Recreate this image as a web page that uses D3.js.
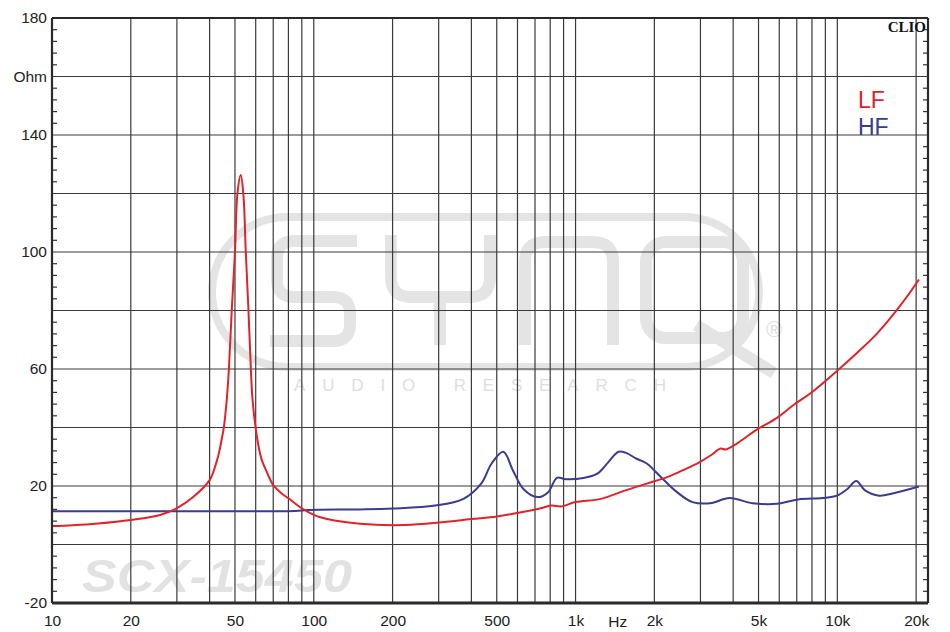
<!DOCTYPE html>
<html><head><meta charset="utf-8">
<script src="https://cdn.jsdelivr.net/npm/d3@7"></script>
<style>html,body{margin:0;padding:0;background:#fff;}svg{display:block;font-family:"Liberation Sans",Arial,sans-serif;}</style>
</head><body>
<script>
// ---- data ----
const lfFreq = [10,12,15,20,25.9,30,34.7,40,42.6,43.6,44.5,45.4,46.5,47.4,48.6,50,51.1,52.6,53.8,55,56.3,57.5,58.3,60,62.3,63.5,66.1,68,70,75,80,90,100,106,120,150,200,250,300,400,500,620,737,807,880,1000,1250,1550,1870,2250,2600,2980,3300,3580,3750,4130,4890,5900,6800,7900,9900,12600,14200,16900,20500];
const lfOhm  = [6.3,6.6,7.2,8.4,10.1,12.4,16.3,22.0,28.5,32,36,40.5,49.4,60,80,100,120,126.3,120,100,80,60,50,39.7,31.2,28.5,24.9,22.4,20.3,17.6,15.8,12.4,10.1,9.3,8.2,7.1,6.6,6.9,7.5,8.7,9.6,11.0,12.4,13.3,13.0,14.5,15.6,18.5,20.8,23.1,25.6,28.2,30.6,32.8,32.5,34.5,39.1,43.4,47.7,51.7,59.1,67.6,72.2,80.2,90.6];
const hfFreq = [10,50,85,95,150,200,291,373,436,478,530,576,632,716,786,849,918,1070,1211,1330,1459,1553,1703,1870,2117,2395,2798,3268,3873,4739,5890,7087,8795,9960,10930,11810,12760,14450,16360,20500];
const hfOhm  = [11.4,11.4,11.45,11.8,12.0,12.3,13.3,15.6,20.8,27.7,31.7,25.4,19.0,16.2,17.9,22.8,22.3,22.7,24.2,28.0,31.7,31.4,29.4,27.7,23.1,18.5,14.5,14.1,15.9,14.1,13.9,15.4,15.9,16.7,19.0,21.7,18.5,16.7,17.5,19.8];
const xTickValues = [10,20,50,100,200,500,1000,2000,5000,10000,20000];
const xTickLabels = ["10","20","50","100","200","500","1k","2k","5k","10k","20k"];
const xGridValues = [20,30,40,50,60,70,80,90,100,200,300,400,500,600,700,800,900,1000,2000,3000,4000,5000,6000,7000,8000,9000,10000,20000];
const yGridValues = [-20,0,20,40,60,80,100,120,140,160,180];
const yTickValues = [180,160,140,100,60,20,-20];
const yTickLabels = ["180","Ohm","140","100","60","20","-20"];
const seriesNames = ["LF","HF"];
const seriesColors = ["#e0232b","#3b3b8f"];

// ---- layout ----
const W = 950, H = 632;
const L = 52, R = 928, T = 18, B = 603;
const x = d3.scaleLog().domain([10, 22200]).range([L, R]);
const y = d3.scaleLinear().domain([-20, 180]).range([B, T]);

const svg = d3.select("body").append("svg").attr("width", W).attr("height", H);
svg.append("rect").attr("width", W).attr("height", H).attr("fill", "#fff");

// ---- watermarks ----
const wm = svg.append("g").attr("transform", "translate(208,213)")
  .attr("fill", "none").attr("stroke", "#e4e4e4");
wm.append("rect").attr("x",4).attr("y",4).attr("width",547).attr("height",150).attr("rx",75).attr("stroke-width",8);
wm.append("path").attr("stroke-width",12)
  .attr("d","M149,28 H86 Q69,28 69,45 V67 Q69,84 86,84 H125 Q142,84 142,101 V111 Q142,128 125,128 H62");
wm.append("path").attr("stroke-width",12)
  .attr("d","M183,22 V64 Q183,84 203,84 H262 Q282,84 282,64 V22 M232,84 V132");
wm.append("path").attr("stroke-width",12)
  .attr("d","M317,132 V49 Q317,29 337,29 H385 Q405,29 405,49 V132");
wm.append("rect").attr("x",438).attr("y",29).attr("width",97).attr("height",96).attr("rx",20).attr("stroke-width",12);
wm.append("path").attr("stroke-width",12).attr("d","M488,112 L566,160");
svg.append("text").attr("x",480).attr("y",391).attr("text-anchor","middle")
  .attr("font-size",17).attr("fill","#dedede").attr("textLength",372).attr("lengthAdjust","spacing")
  .text("AUDIO RESEARCH");
svg.append("text").attr("x",774).attr("y",337).attr("text-anchor","middle")
  .attr("font-size",22).attr("fill","#dedede").text("®");
svg.append("text").attr("x",82).attr("y",592)
  .attr("font-size",47).attr("font-weight","bold").attr("font-style","italic")
  .attr("fill","#e2e2e2").attr("textLength",270).attr("lengthAdjust","spacingAndGlyphs")
  .text("SCX-15450");

// ---- grid ----
const grid = svg.append("g").attr("stroke", "#3a3a3a").attr("stroke-width", 1.2);
grid.selectAll("line.v").data(xGridValues).join("line")
  .attr("x1", d => x(d)).attr("x2", d => x(d)).attr("y1", T).attr("y2", B);
grid.selectAll("line.h").data(yGridValues).join("line")
  .attr("x1", L).attr("x2", R).attr("y1", d => y(d)).attr("y2", d => y(d));

// minor ticks (every 4 Ohm) on both sides
const minor = d3.range(-20, 181, 4).filter(v => v % 20 !== 0);
const mt = svg.append("g").attr("stroke", "#333").attr("stroke-width", 1.2);
mt.selectAll("line.l").data(minor).join("line")
  .attr("x1", L).attr("x2", L + 5).attr("y1", d => y(d)).attr("y2", d => y(d));
mt.selectAll("line.r").data(minor).join("line")
  .attr("x1", R - 5).attr("x2", R).attr("y1", d => y(d)).attr("y2", d => y(d));

// ---- curves ----
const line = d3.line().x(d => x(d[0])).y(d => y(d[1])).curve(d3.curveCatmullRom.alpha(0.5));
const lfData = lfFreq.map((f, i) => [f, lfOhm[i]]);
const hfData = hfFreq.map((f, i) => [f, hfOhm[i]]);
svg.append("path").datum(hfData).attr("d", line).attr("fill", "none")
  .attr("stroke", seriesColors[1]).attr("stroke-width", 2);
svg.append("path").datum(lfData).attr("d", line).attr("fill", "none")
  .attr("stroke", seriesColors[0]).attr("stroke-width", 2);

// ---- frame ----
const fr = svg.append("g").attr("stroke", "#2a2a2a");
fr.append("line").attr("x1", L).attr("x2", R).attr("y1", T).attr("y2", T).attr("stroke-width", 2);
fr.append("line").attr("x1", L).attr("x2", R).attr("y1", B).attr("y2", B).attr("stroke-width", 3);
fr.append("line").attr("x1", L).attr("x2", L).attr("y1", T).attr("y2", B).attr("stroke-width", 2.2);
fr.append("line").attr("x1", R).attr("x2", R).attr("y1", T).attr("y2", B).attr("stroke-width", 2.2);

// ---- axis labels ----
const yAxis = d3.axisLeft(y).tickValues(yTickValues).tickSize(0).tickPadding(5)
  .tickFormat((d, i) => yTickLabels[i]);
const ya = svg.append("g").attr("transform", `translate(${L},0)`).call(yAxis);
ya.select(".domain").remove();
ya.selectAll("text").attr("font-size", 15.5).attr("fill", "#222").attr("font-family", "Liberation Sans, Arial, sans-serif");

const xAxis = d3.axisBottom(x).tickValues(xTickValues).tickSize(0).tickPadding(12)
  .tickFormat((d, i) => xTickLabels[i]);
const xa = svg.append("g").attr("transform", `translate(0,${B})`).call(xAxis);
xa.select(".domain").remove();
xa.selectAll("text").attr("font-size", 15.5).attr("fill", "#222").attr("font-family", "Liberation Sans, Arial, sans-serif");
svg.append("text").attr("x", x(1450)).attr("y", 627).attr("text-anchor", "middle")
  .attr("font-size", 15.5).attr("fill", "#222").text("Hz");

// ---- legend & brand ----
svg.append("text").attr("x", 926).attr("y", 32).attr("text-anchor", "end")
  .attr("font-family", "Liberation Serif, 'Times New Roman', serif").attr("font-weight", "bold")
  .attr("font-size", 15).attr("fill", "#111").text("CLIO");
svg.selectAll("text.leg").data(seriesNames).join("text")
  .attr("x", 858).attr("y", (d, i) => 108 + i * 27)
  .attr("font-size", 23).attr("fill", (d, i) => seriesColors[i]).text(d => d);
</script>
</body></html>
